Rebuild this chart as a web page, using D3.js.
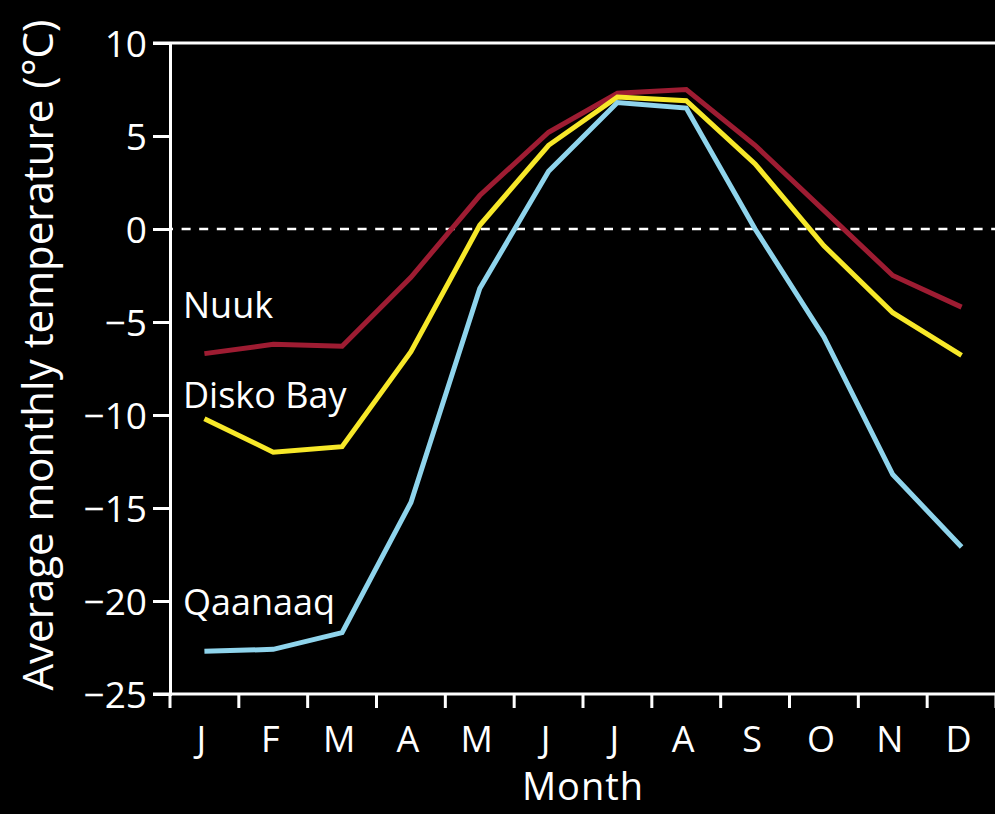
<!DOCTYPE html>
<html>
<head>
<meta charset="utf-8">
<script src="https://cdn.jsdelivr.net/npm/d3@7"></script>
<style>
  html, body { margin: 0; padding: 0; background: #000; }
  svg { display: block; }
  text { font-family: "Open Sans", "DejaVu Sans", sans-serif; fill: #fff; }
</style>
</head>
<body>
<svg id="chart" width="995" height="814"></svg>
<script>
// Monthly mean temperatures (°C) for three Greenland stations
const months = ["J", "F", "M", "A", "M", "J", "J", "A", "S", "O", "N", "D"];
const nuuk     = [-6.7, -6.2, -6.3, -2.6, 1.8, 5.2, 7.3, 7.5, 4.5, 1.0, -2.5, -4.2];
const diskoBay = [-10.2, -12.0, -11.7, -6.6, 0.2, 4.5, 7.1, 6.9, 3.5, -0.9, -4.5, -6.8];
const qaanaaq  = [-22.7, -22.6, -21.7, -14.7, -3.2, 3.1, 6.8, 6.5, 0.0, -5.8, -13.2, -17.1];
const yTicks = [10, 5, 0, -5, -10, -15, -20, -25];

const series = [
  { name: "Nuuk", values: nuuk, color: "#9e1c32", labelAt: -4.8 },
  { name: "Disko Bay", values: diskoBay, color: "#f7e829", labelAt: -9.6 },
  { name: "Qaanaaq", values: qaanaaq, color: "#8fd4ec", labelAt: -20.75 }
];

const svg = d3.select("#chart");
const margin = { left: 170, right: 0, top: 43, bottom: 120 };
const width = 995, height = 814;

const x = d3.scaleBand()
  .domain(d3.range(months.length))
  .range([margin.left, 996])
  .paddingInner(0).paddingOuter(0);

const y = d3.scaleLinear()
  .domain([-25, 10])
  .range([694, margin.top]);

// top frame line
svg.append("line")
  .attr("x1", margin.left - 17).attr("x2", width)
  .attr("y1", y(10)).attr("y2", y(10))
  .attr("stroke", "#fff").attr("stroke-width", 3);

// y axis
const yAxis = svg.append("g")
  .attr("transform", `translate(${margin.left},0)`)
  .call(d3.axisLeft(y).tickValues(yTicks).tickSize(17).tickPadding(6)
    .tickFormat(d => d < 0 ? "\u2212" + Math.abs(d) : d));
yAxis.select(".domain").attr("stroke", "#fff").attr("stroke-width", 3);
yAxis.selectAll(".tick line").attr("stroke", "#fff").attr("stroke-width", 3);
yAxis.selectAll(".tick text")
  .attr("fill", "#fff")
  .style("font-size", "37px")
  .style("font-family", "'Open Sans', sans-serif")
  .attr("dy", "0.36em");

// x axis: ticks at band boundaries, labels at band centres
const xAxisG = svg.append("g").attr("transform", `translate(0,${y(-25)})`);
xAxisG.append("line")
  .attr("x1", margin.left - 17).attr("x2", width)
  .attr("y1", 0).attr("y2", 0)
  .attr("stroke", "#fff").attr("stroke-width", 3);
const bounds = d3.range(months.length + 1).map(i => margin.left + i * x.bandwidth());
xAxisG.selectAll("line.tick").data(bounds).join("line")
  .attr("class", "tick")
  .attr("x1", d => d).attr("x2", d => d)
  .attr("y1", 0).attr("y2", 14)
  .attr("stroke", "#fff").attr("stroke-width", 3);
xAxisG.selectAll("text.lab").data(months).join("text")
  .attr("class", "lab")
  .attr("x", (d, i) => x(i) + x.bandwidth() / 2 - 3)
  .attr("y", 58)
  .attr("text-anchor", "middle")
  .style("font-size", "36px")
  .text(d => d);

// zero reference line
svg.append("line")
  .attr("x1", margin.left).attr("x2", width)
  .attr("y1", y(0)).attr("y2", y(0))
  .attr("stroke", "#fff").attr("stroke-width", 2.5)
  .attr("stroke-dasharray", "9,8.6")
  .attr("stroke-dashoffset", 6);

// series lines
const line = d3.line()
  .x((d, i) => x(i) + x.bandwidth() / 2)
  .y(d => y(d));

svg.selectAll("path.series").data(series).join("path")
  .attr("class", "series")
  .attr("fill", "none")
  .attr("stroke", d => d.color)
  .attr("stroke-width", 5)
  .attr("stroke-linejoin", "miter")
  .attr("d", d => line(d.values));

// series labels
svg.selectAll("text.name").data(series).join("text")
  .attr("class", "name")
  .attr("x", 183)
  .attr("y", d => y(d.labelAt))
  .style("font-size", "36px")
  .text(d => d.name);

// axis titles
svg.append("text")
  .attr("x", 583).attr("y", 800)
  .attr("text-anchor", "middle")
  .style("font-size", "38px")
  .style("letter-spacing", "1px")
  .text("Month");

svg.append("text")
  .attr("transform", `translate(53,${(20 + 690) / 2}) rotate(-90)`)
  .attr("text-anchor", "middle")
  .style("font-size", "42px")
  .text("Average monthly temperature (\u00B0C)");
</script>
</body>
</html>
